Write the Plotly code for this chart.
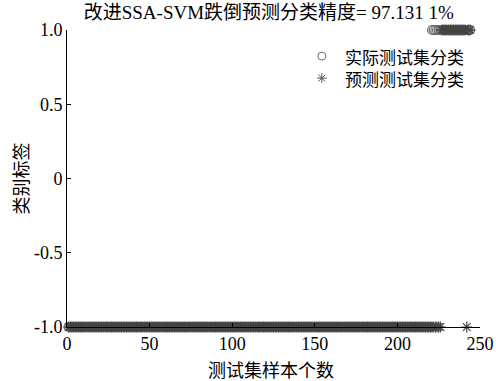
import plotly.graph_objects as go

# Data: 244 test samples, 7 misclassified (237/244 = 97.1311%)
sample_idx = list(range(1, 245))
actual_labels = [-1] * 220 + [1] * 24
predicted_labels = [-1] * 226 + [1] * 15 + [-1] * 1 + [1] * 2

x_ticks = [0, 50, 100, 150, 200, 250]
y_ticks = [1.0, 0.5, 0, -0.5, -1.0]
y_tick_text = ["1.0", "0.5", "0", "-0.5", "-1.0"]

title_text = "改进SSA-SVM跌倒预测分类精度= 97.131 1%"
legend_names = ["实际测试集分类", "预测测试集分类"]
x_title = "测试集样本个数"
y_title = "类别标签"

font_fam = "Liberation Serif, Noto Sans CJK SC"
cjk_fam = "Noto Sans CJK SC"

circle_style = dict(symbol="circle-open", size=9, color="#6a6a6a", line=dict(width=1.2))
star_style = dict(symbol="asterisk-open", size=9, color="#444444", line=dict(width=1.2))

fig = go.Figure()
fig.add_trace(go.Scatter(
    x=sample_idx, y=actual_labels, mode="markers", name=legend_names[0],
    marker=circle_style, cliponaxis=False, showlegend=False,
))
fig.add_trace(go.Scatter(
    x=sample_idx, y=predicted_labels, mode="markers", name=legend_names[1],
    marker=star_style, cliponaxis=False, showlegend=False,
))

# manual legend keys on an overlay axis (0..1 box)
leg_x = 0.617
leg_y = [0.912, 0.838]
fig.add_trace(go.Scatter(x=[leg_x], y=[leg_y[0]], xaxis="x2", yaxis="y2", mode="markers",
                         marker=dict(symbol="circle-open", size=8, color="#6a6a6a",
                                     line=dict(width=1)),
                         showlegend=False, hoverinfo="skip"))
fig.add_trace(go.Scatter(x=[leg_x], y=[leg_y[1]], xaxis="x2", yaxis="y2", mode="markers",
                         marker=dict(symbol="asterisk-open", size=8, color="#555555",
                                     line=dict(width=1)),
                         showlegend=False, hoverinfo="skip"))

annotations = [
    dict(text="<br>".join(legend_names), xref="paper", yref="paper", x=0.671,
         y=(leg_y[0] + leg_y[1]) / 2, align="left",
         xanchor="left", yanchor="middle", showarrow=False, borderpad=0,
         font=dict(family=cjk_fam, size=17, color="black")),
    dict(text=x_title, xref="paper", yref="paper", x=0.495, y=-0.142,
         xanchor="center", yanchor="middle", showarrow=False,
         font=dict(family=cjk_fam, size=18, color="black")),
    dict(text=y_title, xref="paper", yref="paper", x=-0.114, y=0.5, textangle=-90,
         xanchor="center", yanchor="middle", showarrow=False,
         font=dict(family=cjk_fam, size=18, color="black")),
]

fig.update_layout(
    width=496, height=381,
    margin=dict(l=67, r=16, t=30, b=54),
    paper_bgcolor="white", plot_bgcolor="white",
    font=dict(family=font_fam, size=18, color="black"),
    title=dict(text=title_text, x=0.542, xanchor="center", y=0.968, yanchor="middle",
               font=dict(size=19, family=font_fam)),
    showlegend=False,
    annotations=annotations,
    xaxis=dict(range=[0, 250], tickvals=x_ticks, showgrid=False, zeroline=False,
               showline=True, linecolor="black", linewidth=1, automargin=False,
               ticks="inside", ticklen=4, tickcolor="black"),
    yaxis=dict(range=[-1, 1], tickvals=y_ticks, ticktext=y_tick_text, showgrid=False,
               zeroline=False, showline=True, linecolor="black", linewidth=1,
               automargin=False, ticks="inside", ticklen=4, tickcolor="black"),
    xaxis2=dict(overlaying="x", range=[0, 1], visible=False),
    yaxis2=dict(overlaying="y", range=[0, 1], visible=False),
)

fig.write_html("out.html", config={"displayModeBar": False},
               post_script="document.body.style.margin='0';")
